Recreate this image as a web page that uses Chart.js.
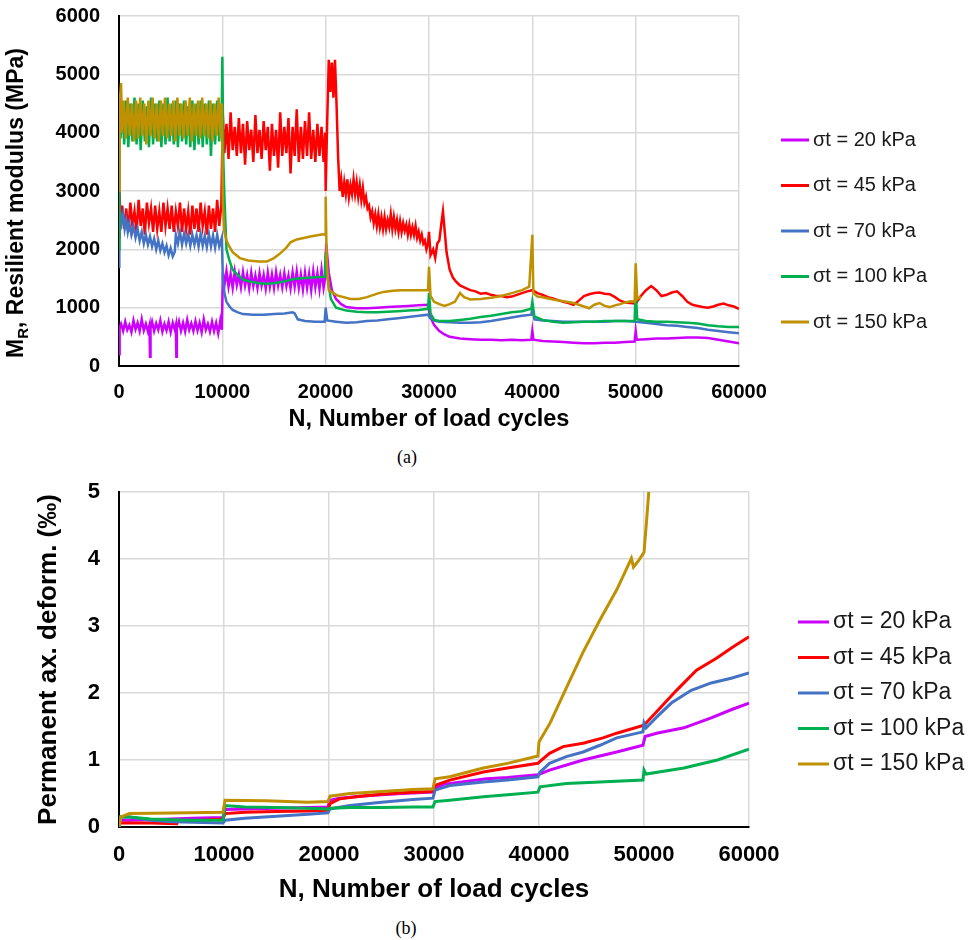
<!DOCTYPE html>
<html lang="en">
<head>
<meta charset="UTF-8">
<title>Resilient modulus and permanent deformation</title>
<script src="https://cdn.jsdelivr.net/npm/chart.js"></script>
<style>
  html, body { margin: 0; padding: 0; background: #fff; }
  .page { position: relative; width: 974px; height: 940px; overflow: hidden; }
  .box { position: absolute; left: 0; width: 974px; }
  .caption {
    position: absolute;
    font-family: "Liberation Serif", "Times New Roman", serif;
    font-size: 18px;
    color: #000;
    transform: translate(-50%, -50%);
  }
</style>
</head>
<body>
<div class="page">
  <div class="box" style="top:0;height:440px"><canvas id="chartA"></canvas></div>
  <div class="caption" style="left:407px;top:457px">(a)</div>
  <div class="box" style="top:470px;height:440px"><canvas id="chartB"></canvas></div>
  <div class="caption" style="left:406px;top:928px">(b)</div>
</div>

<script>
  // ---- data: [load cycles, value] ----
  const seriesLabels = ['σt = 20 kPa', 'σt = 45 kPa', 'σt = 70 kPa', 'σt = 100 kPa', 'σt = 150 kPa'];
  const cycleTicks = [0, 10000, 20000, 30000, 40000, 50000, 60000];
  const mrTicks = [0, 1000, 2000, 3000, 4000, 5000, 6000];
  const pdTicks = [0, 1, 2, 3, 4, 5];

  // (a) resilient modulus, MPa
  const mr20 = [[0,200],[60,650],[200,720],[400,600],[600,760],[800,620],[1000,700],[1200,580],[1400,780],[1600,630],[1800,740],[2000,600],[2200,800],[2400,610],[2600,720],[2800,590],[2950,700],[3000,160],[3050,640],[3200,760],[3400,600],[3600,730],[3800,620],[4000,780],[4200,590],[4400,720],[4600,610],[4800,760],[5000,580],[5200,740],[5400,620],[5500,700],[5550,160],[5600,650],[5800,770],[6000,600],[6200,740],[6400,590],[6600,790],[6800,620],[7000,730],[7200,600],[7400,770],[7600,610],[7800,740],[8000,580],[8200,800],[8400,620],[8600,720],[8800,590],[9000,760],[9200,600],[9400,740],[9600,560],[9800,780],[9950,620],
    [10050,1600],[10200,1380],[10400,1630],[10600,1360],[10800,1580],[11000,1340],[11200,1620],[11400,1390],[11600,1570],[11800,1350],[12000,1610],[12200,1380],[12400,1560],[12600,1330],[12800,1600],[13000,1370],[13200,1550],[13400,1340],[13600,1590],[13800,1380],[14000,1560],[14200,1330],[14400,1600],[14600,1360],[14800,1570],[15000,1340],[15200,1610],[15400,1380],[15600,1560],[15800,1350],[16000,1590],[16200,1370],[16400,1550],[16600,1330],[16800,1600],[17000,1360],[17200,1620],[17400,1340],[17600,1570],[17800,1310],[18000,1600],[18200,1340],[18400,1580],[18600,1300],[18800,1620],[19000,1350],[19200,1590],[19400,1320],[19600,1650],[19800,1340],[19950,1500],
    [20050,2100],[20300,1600],[20600,1300],[21000,1150],[21500,1060],[22000,1010],[23000,990],[24000,990],[25000,1000],[26000,1010],[27000,1020],[28000,1030],[29000,1040],[29900,1050],
    [30100,850],[30500,700],[31000,600],[31500,540],[32000,500],[33000,470],[34000,460],[35000,450],[36000,450],[37000,440],[38000,450],[39000,440],[39900,450],[40000,600],[40100,450],[41000,430],[42000,420],[43000,410],[44000,400],[45000,390],[46000,390],[47000,400],[48000,400],[49000,410],[49900,420],[50000,600],[50100,450],[51000,460],[52000,470],[53000,470],[54000,480],[55000,490],[56000,490],[57000,480],[58000,450],[59000,420],[60000,390]];

  const mr45 = [[0,2200],[50,3000],[150,2400],[300,2750],[500,2350],[700,2700],[900,2300],[1100,2800],[1300,2400],[1500,2650],[1700,2300],[1900,2850],[2100,2400],[2300,2700],[2500,2250],[2700,2800],[2900,2450],[3100,2700],[3300,2300],[3500,2750],[3700,2350],[3900,2650],[4100,2300],[4300,2800],[4500,2400],[4700,2700],[4900,2350],[5100,2750],[5300,2300],[5500,2650],[5700,2400],[5900,2800],[6100,2300],[6300,2700],[6500,2350],[6700,2650],[6900,2250],[7100,2750],[7300,2350],[7500,2700],[7700,2300],[7900,2800],[8100,2400],[8300,2650],[8500,2250],[8700,2750],[8900,2350],[9100,2700],[9300,2300],[9500,2850],[9700,2400],[9900,2750],
    [10050,4300],[10200,3650],[10400,4150],[10600,3550],[10800,4350],[11000,3700],[11200,4100],[11400,3600],[11600,4250],[11800,3650],[12000,4150],[12200,3450],[12400,4200],[12600,3700],[12800,4050],[13000,3500],[13200,4300],[13400,3650],[13600,4050],[13800,3550],[14000,4200],[14200,3700],[14400,4100],[14600,3350],[14800,4150],[15000,3600],[15200,4050],[15400,3400],[15600,4350],[15800,3600],[16000,4100],[16200,3650],[16400,4250],[16600,3300],[16800,4100],[17000,3600],[17200,4400],[17400,3500],[17600,4100],[17800,3550],[18000,4200],[18200,3600],[18400,4350],[18600,3550],[18800,4050],[19000,3500],[19200,4150],[19400,3600],[19600,4100],[19800,3500],[19950,4000],
    [20000,3000],[20150,4200],[20300,5250],[20450,4700],[20600,5200],[20750,4600],[20900,5250],[21050,4500],[21200,3600],
    [21350,3000],[21500,3200],[21650,2900],[21800,3150],[21950,2950],[22100,3200],[22250,2900],[22400,3100],[22550,2950],[22700,3200],[22850,2950],[23000,3150],[23150,2900],[23300,3100],[23450,2850],[23600,3050],[23750,2800],[23900,2900],[24050,2700],[24200,2750],[24350,2550],[24500,2650],[24650,2450],[24800,2600],[24950,2400],[25100,2600],[25250,2380],[25400,2550],[25550,2350],[25700,2550],[25850,2350],[26000,2500],[26150,2380],[26300,2600],[26450,2350],[26600,2550],[26750,2350],[26900,2500],[27050,2300],[27200,2480],[27350,2300],[27500,2450],[27650,2320],[27800,2420],[27950,2250],[28100,2420],[28250,2250],[28400,2380],[28550,2250],[28700,2400],[28850,2200],[29000,2300],[29150,2150],[29300,2250],[29450,2100],[29600,2150],[29750,2000],[29900,2100],
    [30000,2300],[30150,1900],[30400,2000],[30600,1850],[30800,2100],[31000,2150],[31200,2450],[31350,2650],[31500,2350],[31700,1950],[32000,1650],[32300,1520],[32600,1450],[33000,1380],[33500,1340],[34000,1300],[34500,1280],[35000,1240],[35500,1250],[36000,1220],[36500,1200],[37000,1200],[37500,1180],[38000,1190],[38500,1220],[39000,1250],[39500,1280],[40000,1300],[40500,1250],[41000,1220],[41500,1180],[42000,1160],[42500,1130],[43000,1100],[43500,1080],[44000,1050],[44500,1120],[45000,1200],[45500,1230],[46000,1250],[46500,1260],[47000,1240],[47500,1230],[48000,1180],[48500,1120],[49000,1090],[49500,1080],[50000,1070],[50500,1200],[51000,1300],[51500,1370],[52000,1300],[52500,1200],[53000,1220],[53500,1260],[54000,1280],[54500,1200],[55000,1100],[55500,1050],[56000,1030],[56500,1010],[57000,1000],[57500,1020],[58000,1050],[58500,1070],[59000,1040],[59500,1020],[60000,980]];

  const mr70 = [[0,1700],[30,2500],[100,2650],[250,2450],[400,2600],[550,2350],[700,2500],[850,2300],[1000,2450],[1200,2250],[1400,2400],[1600,2200],[1800,2350],[2000,2150],[2200,2300],[2400,2100],[2600,2250],[2800,2080],[3000,2220],[3200,2050],[3400,2180],[3600,2000],[3800,2150],[4000,1980],[4200,2100],[4400,1950],[4600,2060],[4800,1900],[5000,2020],[5200,1880],[5400,1960],[5500,2250],[5700,2100],[5900,2300],[6100,2080],[6300,2270],[6500,2100],[6700,2260],[6900,2060],[7100,2250],[7300,2080],[7500,2240],[7700,2050],[7900,2270],[8100,2060],[8300,2230],[8500,2040],[8700,2260],[8900,2050],[9100,2240],[9300,2030],[9500,2250],[9700,2050],[9950,2200],
    [10050,1500],[10200,1250],[10400,1100],[10700,1020],[11000,960],[11500,920],[12000,890],[13000,880],[14000,880],[15000,890],[16000,900],[16800,920],[17000,900],[17300,800],[18000,770],[19000,760],[19900,760],[20000,1000],[20150,780],[21000,760],[22000,740],[23000,750],[24000,770],[25000,780],[26000,800],[27000,820],[28000,840],[29000,860],[29900,880],
    [30100,820],[30500,780],[31000,760],[32000,750],[33000,740],[34000,740],[35000,750],[36000,770],[37000,800],[38000,830],[39000,860],[39900,880],[40000,1000],[40200,800],[41000,780],[42000,770],[43000,760],[44000,760],[45000,760],[46000,760],[47000,760],[48000,770],[49000,770],[50000,760],[51000,740],[52000,720],[53000,700],[54000,690],[55000,670],[56000,650],[57000,620],[58000,600],[59000,580],[60000,560]];

  const mr100 = [[0,2000],[40,4200],[150,3900],[300,4500],[500,3800],[700,4550],[900,3750],[1100,4500],[1300,3850],[1500,4600],[1700,3800],[1900,4500],[2100,3700],[2300,4550],[2500,3850],[2700,4450],[2900,3750],[3100,4600],[3300,3800],[3500,4500],[3700,3850],[3900,4550],[4100,3750],[4300,4500],[4500,3800],[4700,4600],[4900,3850],[5100,4500],[5300,3800],[5500,4550],[5700,3750],[5900,4500],[6100,3850],[6300,4550],[6500,3800],[6700,4450],[6900,3750],[7100,4550],[7300,3700],[7500,4500],[7700,3800],[7900,4550],[8100,3750],[8300,4500],[8500,3800],[8700,4550],[8900,3600],[9100,4500],[9300,3800],[9500,4550],[9700,3850],[9950,4450],
    [10000,5300],[10100,3500],[10200,2900],[10400,2000],[10700,1800],[11000,1650],[11400,1580],[12000,1480],[12700,1450],[13500,1420],[14300,1410],[15000,1420],[16000,1450],[16900,1490],[18000,1510],[19000,1520],[19900,1530],
    [20000,1950],[20200,1500],[20500,1150],[21000,1000],[22000,950],[23000,930],[24000,920],[25000,920],[26000,930],[27000,940],[28000,950],[29000,960],[29900,980],
    [30000,1250],[30150,900],[30500,790],[31000,770],[32000,770],[33000,790],[34000,810],[35000,840],[36000,860],[37000,890],[38000,920],[39000,940],[39900,980],[40000,1100],[40200,850],[41000,790],[42000,760],[43000,740],[44000,750],[45000,760],[46000,760],[47000,770],[48000,770],[49000,770],[49900,770],[50000,1300],[50150,800],[51000,770],[52000,760],[53000,760],[54000,750],[55000,740],[56000,730],[57000,700],[58000,680],[59000,670],[60000,670]];

  const mr150 = [[0,3000],[60,4500],[200,4850],[300,4000],[450,4550],[650,3900],[850,4600],[1050,3950],[1250,4500],[1450,3850],[1650,4550],[1850,3900],[2050,4600],[2250,3950],[2450,4500],[2650,3800],[2850,4550],[3050,3950],[3250,4600],[3450,3900],[3650,4500],[3850,3850],[4050,4550],[4250,3950],[4450,4600],[4650,3900],[4850,4500],[5050,3950],[5250,4550],[5450,3850],[5650,4600],[5850,3950],[6050,4500],[6250,3900],[6450,4550],[6650,3950],[6850,4600],[7050,3850],[7250,4500],[7450,3950],[7650,4550],[7850,3900],[8050,4600],[8250,3950],[8450,4500],[8650,3900],[8850,4550],[9050,3850],[9250,4500],[9450,3950],[9650,4600],[9850,3900],[9950,4500],
    [10050,2800],[10200,2300],[10400,2150],[10700,2040],[11000,1950],[11700,1850],[12500,1810],[13500,1790],[14300,1790],[15000,1850],[15600,1930],[16200,2030],[16600,2120],[17200,2170],[18000,2200],[18500,2220],[19200,2240],[19700,2260],[19950,2250],
    [20000,2900],[20100,1800],[20300,1300],[21100,1210],[22400,1150],[23200,1150],[24000,1180],[25000,1240],[25600,1270],[26500,1290],[27300,1300],[28500,1300],[29900,1300],
    [30000,1700],[30150,1200],[30500,1100],[31000,1060],[31500,1030],[32000,1060],[32500,1100],[33000,1250],[33400,1180],[34000,1140],[35000,1150],[36000,1170],[37000,1200],[38000,1250],[39000,1300],[39700,1360],[40000,2250],[40100,1250],[40500,1190],[41000,1180],[42000,1140],[43000,1110],[44000,1080],[45000,1020],[45500,990],[46000,1050],[46500,1080],[47000,1030],[47500,1010],[48000,1040],[48500,1060],[49000,1090],[49500,1110],[49900,1100],[50000,1760],[50150,1150],[50500,1190]];

  // (b) permanent axial deformation, per mille
  const pd20 = [[0,0],[100,0.1],[1000,0.1],[3000,0.11],[5000,0.12],[7000,0.13],[9900,0.14],[10100,0.26],[12000,0.27],[15000,0.28],[18000,0.29],[19900,0.3],[20100,0.4],[21000,0.43],[23000,0.46],[25000,0.48],[27000,0.5],[29900,0.52],[30100,0.58],[31000,0.64],[33000,0.68],[35000,0.72],[37000,0.74],[39900,0.78],[41000,0.85],[44200,1.0],[47400,1.12],[49900,1.22],[50100,1.35],[51200,1.4],[53800,1.48],[56400,1.63],[58300,1.75],[60000,1.85]];
  const pd45 = [[0,0],[100,0.06],[3000,0.06],[5500,0.05],[5600,0.09],[8000,0.1],[9900,0.12],[10100,0.2],[12000,0.22],[15000,0.23],[18000,0.24],[19900,0.25],[20100,0.35],[21000,0.42],[23000,0.46],[25000,0.49],[27000,0.51],[29900,0.53],[30100,0.62],[31500,0.7],[34700,0.82],[37000,0.88],[39900,0.95],[40100,0.98],[41000,1.1],[42300,1.2],[44200,1.25],[46100,1.33],[47400,1.4],[50000,1.52],[51200,1.72],[53100,2.04],[55000,2.34],[56900,2.52],[58500,2.69],[60000,2.84]];
  const pd70 = [[0,0],[100,0.15],[1000,0.15],[3000,0.1],[5000,0.08],[7000,0.07],[9900,0.06],[10100,0.1],[12000,0.13],[15000,0.16],[18000,0.19],[19900,0.21],[20100,0.27],[22000,0.32],[25000,0.37],[28000,0.41],[29900,0.43],[30100,0.55],[31500,0.62],[34700,0.67],[37000,0.7],[39900,0.75],[40100,0.82],[41000,0.95],[42600,1.05],[44200,1.12],[45800,1.22],[47400,1.33],[49900,1.42],[50000,1.55],[50200,1.48],[51200,1.64],[52600,1.85],[54500,2.04],[56400,2.15],[58300,2.22],[60000,2.3]];
  const pd100 = [[0,0],[100,0.15],[1000,0.15],[3000,0.12],[5000,0.11],[7000,0.1],[9900,0.1],[10100,0.32],[12000,0.3],[15000,0.29],[18000,0.28],[19900,0.27],[20100,0.28],[22000,0.29],[25000,0.29],[28000,0.3],[29900,0.3],[30100,0.38],[31500,0.4],[34700,0.45],[37000,0.48],[39900,0.52],[40100,0.6],[42600,0.65],[45800,0.67],[49900,0.7],[50000,0.85],[50200,0.79],[53800,0.88],[57000,1.0],[60000,1.16]];
  const pd150 = [[0,0],[200,0.15],[1000,0.2],[5000,0.21],[9900,0.22],[10100,0.4],[14000,0.39],[18000,0.37],[19900,0.38],[20100,0.46],[22000,0.5],[25000,0.53],[28000,0.56],[29900,0.57],[30100,0.72],[31500,0.75],[34700,0.88],[37000,0.95],[39900,1.06],[40000,1.27],[41050,1.55],[42650,2.09],[44200,2.61],[45800,3.09],[47400,3.54],[48300,3.84],[48800,4.01],[49000,3.88],[49500,3.98],[50000,4.1],[50250,4.58],[50550,5.2]];

  // ---- styling ----
  const seriesColors = ['#CC00FF', '#FF0000', '#4472C4', '#00B050', '#BF9000'];
  const FONT = 'Arial, "Liberation Sans", sans-serif';

  function makeSet(points, i, width) {
    return {
      label: seriesLabels[i],
      data: points.map(([x, y]) => ({ x, y })),
      borderColor: seriesColors[i],
      backgroundColor: seriesColors[i],
      borderWidth: width,
      pointRadius: 0,
      tension: 0,
      order: 4 - i
    };
  }

  function xAxis(size, tickPad, height, titlePad, titleSize) {
    return {
      type: 'linear', min: 0, max: 60000,
      afterBuildTicks: s => { s.ticks = cycleTicks.map(v => ({ value: v })); },
      afterFit: s => { s.height = height; },
      ticks: { color: '#000', padding: tickPad, maxRotation: 0, autoSkip: false,
               font: { family: FONT, size: size, weight: 'bold' }, callback: v => String(v) },
      grid: { color: '#d9d9d9', lineWidth: 1.5, drawTicks: false },
      border: { color: '#000', width: 2 },
      title: { display: true, text: 'N, Number of load cycles', color: '#000',
               padding: { top: 0, bottom: titlePad },
               font: { family: FONT, size: titleSize, weight: 'bold' } }
    };
  }

  function yAxis(max, list, size) {
    return {
      type: 'linear', min: 0, max: max,
      afterBuildTicks: s => { s.ticks = list.map(v => ({ value: v })); },
      // fixed axis width, and no extra overflow padding so the plot top stays put
      afterFit: s => { s.width = 119; s.paddingTop = 0; s.paddingBottom = 0; },
      ticks: { color: '#000', padding: 19, font: { family: FONT, size: size, weight: 'bold' },
               callback: v => String(v) },
      grid: { color: '#d9d9d9', lineWidth: 1.5, drawTicks: false },
      border: { color: '#000', width: 2 }
    };
  }

  // legend drawn as short line + label, placed like the original
  const lineLegend = {
    id: 'lineLegend',
    afterDraw(chart, args, o) {
      const ctx = chart.ctx;
      ctx.save();
      ctx.font = o.size + 'px ' + FONT;
      ctx.textBaseline = 'middle';
      chart.data.datasets.forEach((ds, i) => {
        const y = o.y + i * o.dy;
        ctx.strokeStyle = ds.borderColor;
        ctx.lineWidth = 3;
        ctx.beginPath();
        ctx.moveTo(o.x, y);
        ctx.lineTo(o.x + o.len, y);
        ctx.stroke();
        ctx.fillStyle = '#1a1a1a';
        ctx.fillText(ds.label, o.x + o.len + o.gap, y);
      });
      ctx.restore();
    }
  };

  // y title with subscript (M_R)
  const subTitle = {
    id: 'subTitle',
    afterDraw(chart, args, o) {
      const ctx = chart.ctx;
      const big = 'bold ' + o.size + 'px ' + FONT;
      const small = 'bold ' + Math.round(o.size * 0.65) + 'px ' + FONT;
      ctx.save();
      ctx.translate(o.x, o.y);
      ctx.rotate(-Math.PI / 2);
      ctx.fillStyle = '#000';
      ctx.textBaseline = 'middle';
      ctx.font = big;
      const wMain = ctx.measureText(o.main).width;
      const wRest = ctx.measureText(o.rest).width;
      ctx.font = small;
      const wSub = ctx.measureText(o.sub).width;
      let x = -(wMain + wSub + wRest) / 2;
      ctx.font = big;
      ctx.fillText(o.main, x, 0);
      x += wMain;
      ctx.font = small;
      ctx.fillText(o.sub, x, o.size * 0.28);
      x += wSub;
      ctx.font = big;
      ctx.fillText(o.rest, x, 0);
      ctx.restore();
    }
  };

  new Chart(document.getElementById('chartA'), {
    type: 'line',
    data: { datasets: [mr20, mr45, mr70, mr100, mr150].map((p, i) => makeSet(p, i, 2.5)) },
    options: {
      responsive: true, maintainAspectRatio: false, animation: false,
      layout: { padding: { left: 0, right: 235, top: 16, bottom: 0 } },
      plugins: {
        legend: { display: false },
        tooltip: { enabled: false },
        lineLegend: { x: 781, y: 140, dy: 45.5, len: 28, gap: 4, size: 20 },
        subTitle: { x: 17, y: 203, size: 23, main: 'M', sub: 'R', rest: ', Resilient modulus (MPa)' }
      },
      scales: {
        x: xAxis(20, 14, 74, 6, 23.5),
        y: yAxis(6000, mrTicks, 20)
      }
    },
    plugins: [lineLegend, subTitle]
  });

  const yB = yAxis(5, pdTicks, 22);
  yB.title = { display: true, text: 'Permanent ax. deform. (‰)', color: '#000',
               padding: { top: 33, bottom: 0 },
               font: { family: FONT, size: 26, weight: 'bold' } };

  new Chart(document.getElementById('chartB'), {
    type: 'line',
    data: { datasets: [pd20, pd45, pd70, pd100, pd150].map((p, i) => makeSet(p, i, 3)) },
    options: {
      responsive: true, maintainAspectRatio: false, animation: false,
      layout: { padding: { left: 0, right: 225, top: 22, bottom: 0 } },
      plugins: {
        legend: { display: false },
        tooltip: { enabled: false },
        lineLegend: { x: 798, y: 152, dy: 35.5, len: 31, gap: 4, size: 23 }
      },
      scales: {
        x: xAxis(22, 15, 83, 5, 26),
        y: yB
      }
    },
    plugins: [lineLegend]
  });
</script>
</body>
</html>
